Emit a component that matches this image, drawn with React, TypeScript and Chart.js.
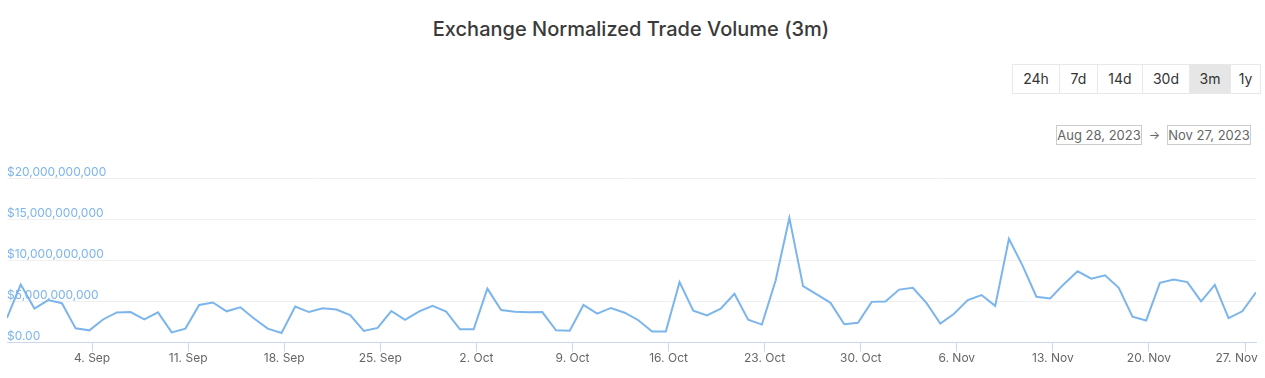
import React, { useEffect, useRef } from 'react';
import { Chart, registerables } from 'chart.js';

Chart.register(...registerables);

const chartTitle = 'Exchange Normalized Trade Volume (3m)';
const rangeButtons = ['24h', '7d', '14d', '30d', '3m', '1y'];
const rangeButtonWidths = [46, 38, 45, 47, 41, 30];
const activeRange = '3m';
const rangeFrom = 'Aug 28, 2023';
const rangeTo = 'Nov 27, 2023';

// daily normalized trade volume, in billions of USD (Aug 28 .. Nov 27, 2023)
const volumeBillions = [
  3.0, 7.05, 4.13, 5.16, 4.79, 1.73, 1.49, 2.81, 3.67, 3.71, 2.81, 3.67, 1.24, 1.7,
  4.58, 4.87, 3.8, 4.29, 2.93, 1.7, 1.16, 4.38, 3.71, 4.17, 4.01, 3.34, 1.41,
  1.78, 3.84, 2.77, 3.76, 4.46, 3.76, 1.61, 1.61, 6.56, 3.96, 3.76, 3.68, 3.71,
  1.49, 1.45, 4.58, 3.51, 4.21, 3.63, 2.72, 1.36, 1.36, 7.35, 3.88, 3.3, 4.13,
  5.94, 2.77, 2.19, 7.55, 15.15, 6.86, 5.87, 4.83, 2.23, 2.4, 4.95, 5.0, 6.44,
  6.65, 4.79, 2.31, 3.51, 5.16, 5.78, 4.46, 12.62, 9.33, 5.57, 5.37, 7.1, 8.66,
  7.76, 8.17, 6.65, 3.14, 2.69, 7.26, 7.67, 7.35, 5.0, 7.02, 2.97, 3.8, 6.11,
];
const firstPointDay = 0.8; // days after Aug 28 00:00
const xTickDays = [7, 14, 21, 28, 35, 42, 49, 56, 63, 70, 77, 84, 91];
const xTickLabels = [
  '4. Sep', '11. Sep', '18. Sep', '25. Sep', '2. Oct', '9. Oct', '16. Oct',
  '23. Oct', '30. Oct', '6. Nov', '13. Nov', '20. Nov', '27. Nov',
];
const yTickValues = [0, 5e9, 1e10, 1.5e10, 2e10];
const yTickLabels = ['$0.00', '$5,000,000,000', '$10,000,000,000', '$15,000,000,000', '$20,000,000,000'];

const FONT = 'Inter, "Noto Sans", sans-serif';

function VolumeChart() {
  const ref = useRef<HTMLCanvasElement | null>(null);
  useEffect(() => {
    if (!ref.current) return;
    const chart = new Chart(ref.current, {
      type: 'line',
      data: {
        datasets: [
          {
            data: volumeBillions.map((v, i) => ({ x: firstPointDay + i, y: v * 1e9 })),
            borderColor: '#7cb5ec',
            borderWidth: 2,
            pointRadius: 0,
            tension: 0,
            fill: false,
          },
        ],
      },
      options: {
        animation: false,
        responsive: false,
        maintainAspectRatio: false,
        layout: { padding: { left: 7, right: 9, top: 28, bottom: 0 } },
        plugins: { legend: { display: false }, tooltip: { enabled: false } },
        scales: {
          x: {
            type: 'linear',
            min: firstPointDay,
            max: firstPointDay + volumeBillions.length - 1,
            afterBuildTicks: (s: any) => {
              s.ticks = xTickDays.map((v) => ({ value: v }));
            },
            afterFit: (s: any) => {
              s.paddingLeft = 0;
              s.paddingRight = 0;
            },
            ticks: {
              autoSkip: false,
              maxRotation: 0,
              padding: 0,
              color: '#666666',
              font: { family: FONT, size: 12 },
              callback: (v: any) => {
                const i = xTickDays.indexOf(Number(v));
                const label = xTickLabels[i] ?? '';
                // last label is kept inside the plot edge, as in the reference
                return i === xTickLabels.length - 1 ? label + '\u00a0'.repeat(5) : label;
              },
            },
            grid: { drawOnChartArea: false, drawTicks: true, tickLength: 9, color: '#ccd6eb' },
            border: { display: true, color: '#ccd6eb' },
          },
          y: {
            min: 0,
            max: 2e10,
            afterBuildTicks: (s: any) => {
              s.ticks = yTickValues.map((v) => ({ value: v }));
            },
            ticks: {
              mirror: true,
              labelOffset: -6,
              padding: 0,
              color: '#7cb5ec',
              font: { family: FONT, size: 12 },
              callback: (v: any) => yTickLabels[yTickValues.indexOf(Number(v))] ?? '',
            },
            grid: { color: '#f0f0f0', drawTicks: false },
            border: { display: false },
          },
        },
      },
    } as any);
    return () => chart.destroy();
  }, []);
  return (
    <canvas
      ref={ref}
      width={1265}
      height={216}
      style={{ position: 'absolute', left: 0, top: 150, width: 1265, height: 216 }}
    />
  );
}

export default function App() {
  return (
    <div
      style={{
        position: 'fixed',
        left: 0,
        top: 0,
        width: 1265,
        height: 378,
        overflow: 'hidden',
        background: '#ffffff',
        fontFamily: FONT,
      }}
    >
      <div
        style={{
          position: 'absolute',
          left: 0,
          top: 17,
          width: 1262,
          textAlign: 'center',
          fontSize: 20,
          lineHeight: '24px',
          fontWeight: 500,
          color: '#3a3a3a',
        }}
      >
        {chartTitle}
      </div>
      <div
        style={{
          position: 'absolute',
          left: 1012,
          top: 64,
          height: 30,
          display: 'flex',
          border: '1px solid #e8e8e8',
          boxSizing: 'border-box',
        }}
      >
        {rangeButtons.map((b, i) => (
          <div
            key={b}
            style={{
              width: rangeButtonWidths[i],
              flex: 'none',
              boxSizing: 'border-box',
              borderLeft: i === 0 ? 'none' : '1px solid #e8e8e8',
              background: b === activeRange ? '#e6e6e6' : '#ffffff',
              fontSize: 14,
              lineHeight: '28px',
              textAlign: 'center',
              color: '#333333',
            }}
          >
            {b}
          </div>
        ))}
      </div>
      <div
        style={{
          position: 'absolute',
          left: 1056,
          top: 125,
          width: 86,
          height: 20,
          boxSizing: 'border-box',
          border: '1px solid #cccccc',
          fontSize: 13,
          lineHeight: '18px',
          textAlign: 'center',
          color: '#666666',
        }}
      >
        {rangeFrom}
      </div>
      <div
        style={{
          position: 'absolute',
          left: 1142,
          top: 125,
          width: 25,
          height: 20,
          fontSize: 12,
          lineHeight: '20px',
          textAlign: 'center',
          color: '#666666',
        }}
      >
        →
      </div>
      <div
        style={{
          position: 'absolute',
          left: 1167,
          top: 125,
          width: 84,
          height: 20,
          boxSizing: 'border-box',
          border: '1px solid #cccccc',
          fontSize: 13,
          lineHeight: '18px',
          textAlign: 'center',
          color: '#666666',
        }}
      >
        {rangeTo}
      </div>
      <VolumeChart />
    </div>
  );
}
